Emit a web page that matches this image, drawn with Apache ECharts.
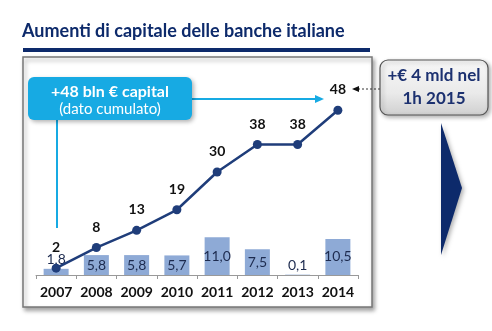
<!DOCTYPE html>
<html>
<head>
<meta charset="utf-8">
<script src="https://cdn.jsdelivr.net/npm/echarts@6/dist/echarts.min.js"></script>
<style>
  html, body { margin: 0; padding: 0; background: #fff; }
  #chart { width: 492px; height: 331px; }
</style>
</head>
<body>
<div id="chart"></div>
<script>
// Capital increases of Italian banks, bln €
const years = ['2007', '2008', '2009', '2010', '2011', '2012', '2013', '2014'];
const annualValues = [1.8, 5.8, 5.8, 5.7, 11.0, 7.5, 0.1, 10.5];
const cumulativeValues = [2, 8, 13, 19, 30, 38, 38, 48];

const NAVY = '#0d2a6b';
const LINE = '#1f3d7a';
const BAR = '#8eaad6';
const CYAN = '#17aae3';
const FONT = 'Lato, "Liberation Sans", sans-serif';

const fmt = v => v.toFixed(1).replace('.', ',');

const barData = annualValues.map(v => {
  if (v < 3) {
    return { value: v, label: { position: 'top', distance: 2 } };
  }
  return v;
});

const chart = echarts.init(document.getElementById('chart'), null, { renderer: 'canvas' });

chart.setOption({
  animation: false,
  backgroundColor: '#fff',
  grid: { left: 36, right: 134, top: 69, bottom: 56 },
  xAxis: {
    type: 'category',
    data: years,
    boundaryGap: true,
    axisLine: { lineStyle: { color: '#999', width: 1 } },
    axisTick: { show: true, length: 4, lineStyle: { color: '#999' } },
    axisLabel: {
      interval: 0,
      hideOverlap: false,
      color: '#111', fontWeight: 'bold', fontSize: 14, fontFamily: FONT, margin: 10
    }
  },
  yAxis: {
    type: 'value', min: 0, max: 60,
    show: false, splitLine: { show: false }
  },
  series: [
    {
      type: 'bar',
      data: barData,
      barWidth: 25,
      itemStyle: { color: BAR },
      z: 2,
      label: {
        show: true,
        position: 'inside',
        color: '#1d2b4f',
        fontSize: 14,
        fontFamily: FONT,
        formatter: p => fmt(p.value)
      }
    },
    {
      type: 'line',
      data: cumulativeValues,
      symbol: 'circle',
      symbolSize: 9,
      lineStyle: { color: LINE, width: 2.5 },
      itemStyle: { color: LINE },
      z: 3,
      label: {
        show: true,
        position: 'top',
        distance: 9,
        color: '#111',
        fontWeight: 'bold',
        fontSize: 14,
        fontFamily: FONT
      }
    }
  ],
  graphic: [
    // chart frame
    {
      type: 'rect', z: -10,
      shape: { x: 23, y: 57, width: 349, height: 250 },
      style: {
        fill: '#fff', stroke: '#777', lineWidth: 1.5,
        shadowBlur: 4, shadowOffsetX: 2, shadowOffsetY: 3, shadowColor: 'rgba(0,0,0,0.35)'
      }
    },
    // title
    {
      type: 'text', left: 22, top: 22,
      style: {
        text: 'Aumenti di capitale delle banche italiane',
        fill: NAVY, font: 'bold 18px ' + FONT
      }
    },
    {
      type: 'rect',
      shape: { x: 23, y: 48, width: 347, height: 4 },
      style: { fill: NAVY }
    },
    // cumulative callout
    {
      type: 'polyline',
      shape: { points: [[57, 120], [57, 228]] },
      style: { stroke: CYAN, lineWidth: 2 }
    },
    {
      type: 'polyline',
      shape: { points: [[190, 99], [316, 99]] },
      style: { stroke: CYAN, lineWidth: 2 }
    },
    {
      type: 'polygon',
      shape: { points: [[324, 99], [315, 95], [315, 103]] },
      style: { fill: CYAN }
    },
    {
      type: 'rect',
      shape: { x: 28, y: 77, width: 164, height: 43, r: 6 },
      style: {
        fill: CYAN,
        shadowBlur: 4, shadowOffsetX: 2, shadowOffsetY: 2, shadowColor: 'rgba(0,0,0,0.3)'
      }
    },
    {
      type: 'text', x: 110, y: 92,
      style: {
        text: '+48 bln € capital', fill: '#fff',
        font: 'bold 16px ' + FONT, align: 'center', verticalAlign: 'middle'
      }
    },
    {
      type: 'text', x: 110, y: 109,
      style: {
        text: '(dato cumulato)', fill: '#fff',
        font: '15px ' + FONT, align: 'center', verticalAlign: 'middle'
      }
    },
    // 1h 2015 box
    {
      type: 'polyline',
      shape: { points: [[380, 89], [358, 89]] },
      style: { stroke: '#333', lineWidth: 1, lineDash: [2, 2] }
    },
    {
      type: 'polygon',
      shape: { points: [[352, 89], [359, 86], [359, 92]] },
      style: { fill: '#111' }
    },
    {
      type: 'rect',
      shape: { x: 380, y: 60, width: 108, height: 55, r: 8 },
      style: {
        fill: new echarts.graphic.LinearGradient(0, 0, 0, 1, [
          { offset: 0, color: '#f7f7f7' },
          { offset: 0.6, color: '#eaeaea' },
          { offset: 1, color: '#cfcfcf' }
        ]),
        stroke: '#555', lineWidth: 1.2,
        shadowBlur: 4, shadowOffsetX: 2, shadowOffsetY: 2, shadowColor: 'rgba(0,0,0,0.3)'
      }
    },
    {
      type: 'text', x: 434, y: 76,
      style: {
        text: '+€ 4 mld nel', fill: '#1c3170',
        font: 'bold 17px ' + FONT, align: 'center', verticalAlign: 'middle'
      }
    },
    {
      type: 'text', x: 434, y: 99,
      style: {
        text: '1h 2015', fill: '#1c3170',
        font: 'bold 17px ' + FONT, align: 'center', verticalAlign: 'middle'
      }
    },
    // navy chevron
    {
      type: 'polygon',
      shape: { points: [[441, 123], [462, 188], [441, 255]] },
      style: {
        fill: NAVY,
        shadowBlur: 4, shadowOffsetX: 2, shadowOffsetY: 2, shadowColor: 'rgba(0,0,0,0.3)'
      }
    }
  ]
});
</script>
</body>
</html>
